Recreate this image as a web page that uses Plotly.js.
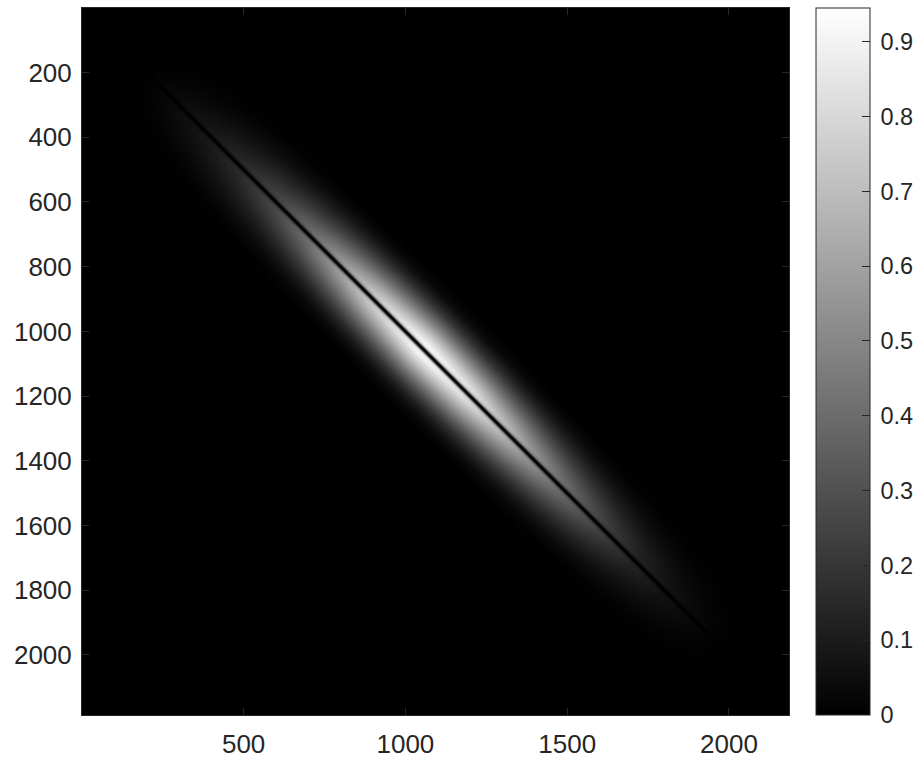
<!DOCTYPE html>
<html>
<head>
<meta charset="utf-8">
<script src="https://cdn.plot.ly/plotly-3.0.1.min.js"></script>
<style>html,body{margin:0;padding:0;background:#fff;}#chart{width:917px;height:762px;}</style>
</head>
<body>
<div id="chart"></div>
<script>
// ---- values ----
// image size (pixels of the original matrix)
const imageSize = 2185;
// position along the diagonal t=(x+y)/2 and the peak brightness of the band there
const diagPos  = [200, 300, 400, 500, 600, 700, 800, 900, 1000, 1050, 1100, 1200, 1300, 1400, 1500, 1600, 1700, 1800, 1900, 1985];
const diagPeak = [0, 0.04, 0.09, 0.16, 0.26, 0.40, 0.58, 0.76, 0.89, 0.945, 0.93, 0.85, 0.70, 0.53, 0.38, 0.25, 0.14, 0.07, 0.025, 0];
// relative half-width of the band at each diagPos
const diagWidth = [0.6, 0.85, 0.95, 1.0, 1.0, 1.0, 1.0, 1.0, 1.0, 1.0, 1.0, 1.0, 1.0, 1.0, 1.0, 1.0, 1.0, 0.97, 0.9, 0.6];
// cross-section of the band: offset from the diagonal (x - y) and relative brightness
const crossOffset = [0, 28, 55, 83, 110, 138, 165, 193, 220, 248, 275];
const crossValue  = [1, 0.95, 0.82, 0.66, 0.50, 0.35, 0.22, 0.12, 0.05, 0.015, 0];
// dark line on the diagonal: offset and multiplier
const notchOffset = [0, 3, 6, 9, 13, 18, 25];
const notchValue  = [0, 0.05, 0.25, 0.55, 0.85, 0.97, 1];
// ticks
const xTicks = [500, 1000, 1500, 2000];
const yTicks = [200, 400, 600, 800, 1000, 1200, 1400, 1600, 1800, 2000];
const cTicks = [0, 0.1, 0.2, 0.3, 0.4, 0.5, 0.6, 0.7, 0.8, 0.9];
const zMin = 0, zMax = 0.945;

// ---- build the matrix the heatmap needs from the arrays above ----
function lookup(xs, ys, v) {
  if (v <= xs[0]) return ys[0];
  const n = xs.length;
  if (v >= xs[n - 1]) return ys[n - 1];
  for (let k = 1; k < n; k++) {
    if (v <= xs[k]) {
      const f = (v - xs[k - 1]) / (xs[k] - xs[k - 1]);
      return ys[k - 1] + f * (ys[k] - ys[k - 1]);
    }
  }
  return ys[n - 1];
}
const cells = 707;
const step = imageSize / cells;
const z = [];
for (let i = 0; i < cells; i++) {
  const y = 0.5 + (i + 0.5) * step;
  const row = new Array(cells);
  for (let j = 0; j < cells; j++) {
    const x = 0.5 + (j + 0.5) * step;
    const t = (x + y) / 2;
    const d = Math.abs(x - y);
    const a = lookup(diagPos, diagPeak, t);
    if (a <= 0) { row[j] = 0; continue; }
    const w = lookup(diagPos, diagWidth, t);
    row[j] = a * lookup(crossOffset, crossValue, d / w) * lookup(notchOffset, notchValue, d);
  }
  z.push(row);
}

const font = {family: 'Liberation Sans, Arial, sans-serif', size: 26, color: '#262626'};
const cbFont = {family: 'Liberation Sans, Arial, sans-serif', size: 23.5, color: '#262626'};
const trace = {
  type: 'heatmap',
  z: z,
  x0: 0.5 + step / 2, dx: step,
  y0: 0.5 + step / 2, dy: step,
  zmin: zMin, zmax: zMax,
  colorscale: [[0, '#000000'], [1, '#ffffff']],
  hoverinfo: 'skip',
  colorbar: {
    thicknessmode: 'pixels', thickness: 54,
    lenmode: 'pixels', len: 707,
    x: (816 - 82) / 707, xanchor: 'left',
    y: 0, yanchor: 'bottom',
    xpad: 0, ypad: 0,
    outlinecolor: '#262626', outlinewidth: 1,
    ticks: 'inside', ticklen: 8, tickcolor: '#262626', tickwidth: 1,
    tickmode: 'array', tickvals: cTicks, ticktext: cTicks.map(v => '\u2009' + String(v)),
    tickfont: cbFont
  }
};
const axisCommon = {
  showgrid: false, zeroline: false,
  showline: true, linecolor: '#262626', linewidth: 1, mirror: 'allticks',
  ticks: 'inside', ticklen: 7, tickcolor: '#262626', tickwidth: 1,
  tickmode: 'array', tickfont: font
};
const layout = {
  width: 917, height: 762,
  margin: {l: 82, r: 128, t: 8, b: 47, pad: 0, autoexpand: false},
  paper_bgcolor: '#ffffff', plot_bgcolor: '#000000',
  showlegend: false,
  xaxis: Object.assign({}, axisCommon, {range: [0.5, imageSize + 0.5], tickvals: xTicks, ticktext: xTicks.map(String), ticklabelstandoff: 6}),
  yaxis: Object.assign({}, axisCommon, {range: [imageSize + 0.5, 0.5], tickvals: yTicks, ticktext: yTicks.map(String), ticklabelstandoff: 4})
};
Plotly.newPlot('chart', [trace], layout, {staticPlot: true, displayModeBar: false});
</script>
</body>
</html>
